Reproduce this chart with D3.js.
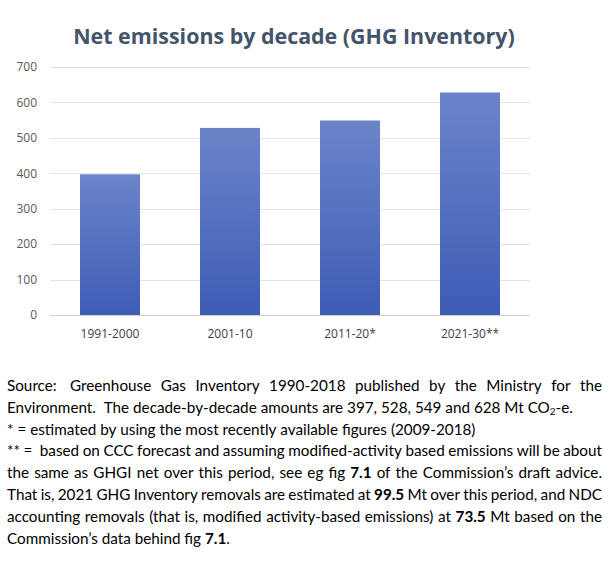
<!DOCTYPE html>
<html>
<head>
<meta charset="utf-8">
<script src="https://cdn.jsdelivr.net/npm/d3@7"></script>
<style>
  html, body { margin: 0; padding: 0; background: #fff; }
  svg { display: block; }
</style>
</head>
<body>
<svg id="chart" width="612" height="561"></svg>
<script>
const title = "Net emissions by decade (GHG Inventory)";
const categories = ["1991-2000", "2001-10", "2011-20*", "2021-30**"];
const values = [397, 528, 549, 628];
const yTicks = [0, 100, 200, 300, 400, 500, 600, 700];

// Notes: each line is a list of [text, bold] runs; justify flag per line
const noteLines = [
  { justify: true,  runs: [["Source:  Greenhouse Gas Inventory 1990-2018 published by the Ministry for the", false]] },
  { justify: false, runs: [["Environment.  The decade-by-decade amounts are 397, 528, 549 and 628 Mt CO", false], ["2", "sub"], ["-e.", false]] },
  { justify: false, runs: [["* = estimated by using the most recently available figures (2009-2018)", false]] },
  { justify: true,  runs: [["** =  based on CCC forecast and assuming modified-activity based emissions will be about", false]] },
  { justify: true,  runs: [["the same as GHGI net over this period, see eg fig ", false], ["7.1", true], [" of the Commission\u2019s draft advice.", false]] },
  { justify: true,  runs: [["That is, 2021 GHG Inventory removals are estimated at ", false], ["99.5", true], [" Mt over this period, and NDC", false]] },
  { justify: true,  runs: [["accounting removals (that is, modified activity-based emissions) at ", false], ["73.5", true], [" Mt based on the", false]] },
  { justify: false, runs: [["Commission\u2019s data behind fig ", false], ["7.1", true], [".", false]] }
];

const svg = d3.select("#chart");
const FONT = "'Open Sans', sans-serif";
const BODYFONT = "Lato, 'Open Sans', sans-serif";

// gradient for bars
const defs = svg.append("defs");
const grad = defs.append("linearGradient").attr("id", "barGrad")
  .attr("x1", 0).attr("y1", 0).attr("x2", 0).attr("y2", 1);
grad.append("stop").attr("offset", "0%").attr("stop-color", "#6b84c9");
grad.append("stop").attr("offset", "100%").attr("stop-color", "#3d5cb5");

// scales
const x = d3.scaleBand().domain(categories).range([50, 530]).paddingInner(0.5).paddingOuter(0.25);
const y = d3.scaleLinear().domain([0, 700]).range([315, 67]);

// title
const t = svg.append("text")
  .attr("x", 294).attr("y", 44)
  .attr("text-anchor", "middle")
  .attr("font-family", FONT).attr("font-weight", "bold")
  .attr("font-size", 24).attr("fill", "#44546a")
  .text(title);
{
  const w = t.node().getComputedTextLength();
  t.attr("font-size", 24 * 442 / w);
}

// gridlines
svg.append("g").selectAll("line").data(yTicks).join("line")
  .attr("x1", 50).attr("x2", 530)
  .attr("y1", d => Math.round(y(d)) + 0.5).attr("y2", d => Math.round(y(d)) + 0.5)
  .attr("stroke", d => d === 0 ? "#d0d0d0" : "#e3e3e3").attr("stroke-width", 1);

// y tick labels
svg.append("g").selectAll("text").data(yTicks).join("text")
  .attr("x", 37).attr("y", d => y(d)).attr("dy", "0.36em")
  .attr("text-anchor", "end")
  .attr("font-family", FONT).attr("font-size", 12).attr("fill", "#595959")
  .text(d => d);

// bars
svg.append("g").selectAll("rect").data(values).join("rect")
  .attr("x", (d, i) => x(categories[i]))
  .attr("width", x.bandwidth())
  .attr("y", d => y(d))
  .attr("height", d => y(0) - y(d))
  .attr("fill", "url(#barGrad)");

// x labels
svg.append("g").selectAll("text").data(categories).join("text")
  .attr("x", d => x(d) + x.bandwidth() / 2).attr("y", 338)
  .attr("text-anchor", "middle")
  .attr("font-family", FONT).attr("font-size", 12).attr("fill", "#404040")
  .text(d => d);

// notes text with manual justification
const measure = svg.append("text").attr("font-family", BODYFONT)
  .attr("visibility", "hidden").style("white-space", "pre");
function mw(str, size, bold) {
  measure.attr("font-size", size).attr("font-weight", bold ? "bold" : "normal").text(str);
  return measure.node().getComputedTextLength();
}
let fs = 16;
const left = 7, right = 602;
const baselines = [391, 413, 434.5, 456, 478, 500, 522, 543.5];

function tokenize(line, size) {
  const tokens = [];
  line.runs.forEach(r => {
    const parts = r[0].split(/(\s+)/).filter(p => p.length);
    parts.forEach(p => tokens.push({ s: p, style: r[1], space: /^\s+$/.test(p) }));
  });
  tokens.forEach(tk => {
    const sz = tk.style === "sub" ? size * 0.65 : size;
    tk.size = sz;
    tk.w = tk.space ? (mw("a" + tk.s + "a", sz, false) - mw("aa", sz, false))
                    : mw(tk.s, sz, tk.style === true);
  });
  return tokens;
}
// font size chosen so line 2 natural width ~ 566 px
{
  const w = d3.sum(tokenize(noteLines[1], fs), tk => tk.w);
  fs = fs * 566 / w;
}

noteLines.forEach((line, li) => {
  const tokens = tokenize(line, fs);
  let extra = 0;
  const nSpaces = tokens.filter(tk => tk.space).length;
  if (line.justify && nSpaces) {
    const total = d3.sum(tokens, tk => tk.w);
    extra = (right - left - total) / nSpaces;
  }
  const txt = svg.append("text").attr("font-family", BODYFONT).attr("fill", "#000");
  let cx = left;
  tokens.forEach(tk => {
    if (tk.space) { cx += tk.w + extra; return; }
    txt.append("tspan")
      .attr("x", cx)
      .attr("y", baselines[li] + (tk.style === "sub" ? 1.5 : 0))
      .attr("font-size", tk.size)
      .attr("font-weight", tk.style === true ? "bold" : "normal")
      .text(tk.s);
    cx += tk.w;
  });
});
measure.remove();
</script>
</body>
</html>
